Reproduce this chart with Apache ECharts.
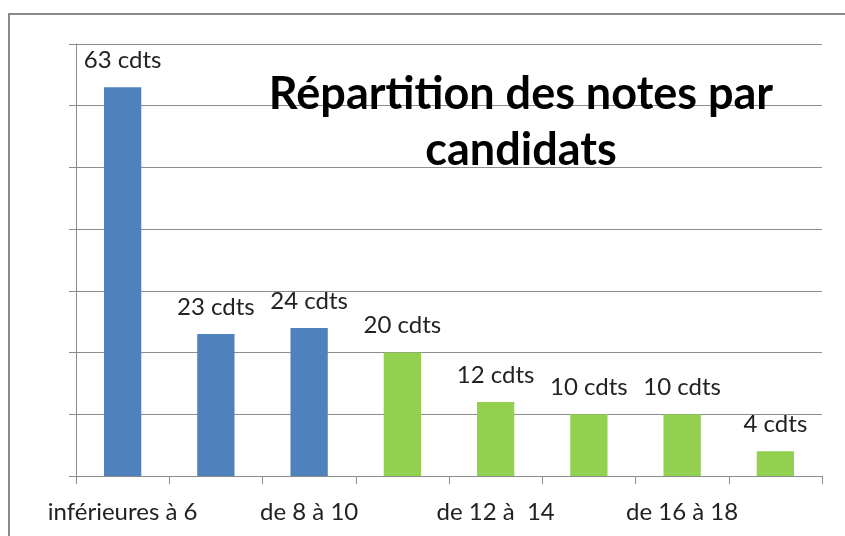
<!DOCTYPE html>
<html>
<head>
<meta charset="utf-8">
<script src="https://cdn.jsdelivr.net/npm/echarts@6/dist/echarts.min.js"></script>
<style>
  html, body { margin: 0; padding: 0; background: #fff; }
  #chart { width: 845px; height: 536px; }
</style>
</head>
<body>
<div id="chart"></div>
<script>
// tranches de notes
const categories = ['inférieures à 6', 'de 6 à 8', 'de 8 à 10', 'de 10 à 12', 'de 12 à  14', 'de 14 à 16', 'de 16 à 18', 'de 18 à 20'];
// nombre de candidats par tranche
const candidats = [63, 23, 24, 20, 12, 10, 10, 4];
// les 3 premières tranches en bleu, le reste en vert
const couleurs = ['#4F81BD', '#4F81BD', '#4F81BD', '#92D050', '#92D050', '#92D050', '#92D050', '#92D050'];

const chart = echarts.init(document.getElementById('chart'));
const font = 'Lato, "Open Sans", sans-serif';

chart.setOption({
    animation: false,
    title: {
        text: 'Répartition des notes par\ncandidats',
        left: 516,
        top: 61,
        textAlign: 'center',
        textStyle: {
            fontFamily: font,
            fontWeight: 'bold',
            fontSize: 45,
            lineHeight: 56,
            color: '#000'
        }
    },
    graphic: [{
        type: 'rect',
        shape: { x: 9, y: 14, width: 900, height: 600 },
        style: { fill: 'none', stroke: '#8a8a8a', lineWidth: 2 },
        silent: true
    }],
    grid: { left: 76, right: 23, top: 44, bottom: 60 },
    xAxis: {
        type: 'category',
        data: categories,
        axisLine: { lineStyle: { color: '#8c8c8c' } },
        axisTick: { show: true, interval: 0, length: 8, lineStyle: { color: '#8c8c8c' } },
        axisLabel: {
            interval: 1,
            margin: 24,
            fontFamily: font,
            fontSize: 24,
            color: '#222'
        }
    },
    yAxis: {
        type: 'value',
        min: 0,
        max: 70,
        interval: 10,
        axisLine: { show: true, lineStyle: { color: '#8c8c8c' } },
        axisTick: { show: true, length: 7, inside: false, lineStyle: { color: '#8c8c8c' } },
        axisLabel: { show: false },
        splitLine: { lineStyle: { color: '#8c8c8c' } }
    },
    series: [{
        type: 'bar',
        barWidth: '40%',
        data: candidats.map((v, i) => ({ value: v, itemStyle: { color: couleurs[i] } })),
        label: {
            show: true,
            position: 'top',
            distance: 15,
            formatter: p => p.value + ' cdts',
            fontFamily: font,
            fontSize: 24,
            color: '#222'
        }
    }]
});
</script>
</body>
</html>
